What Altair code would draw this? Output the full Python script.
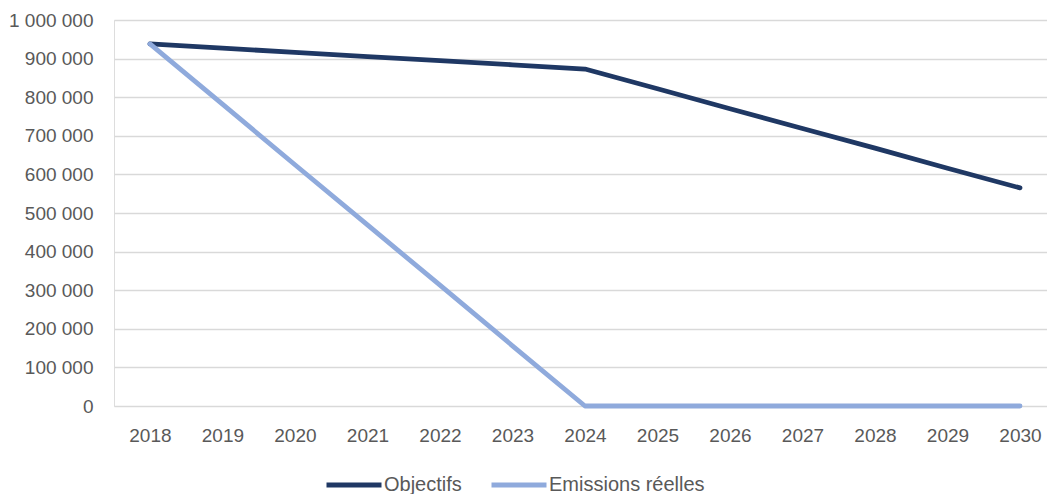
import altair as alt
import pandas as pd

years = [str(y) for y in range(2018, 2031)]
objectifs = [938000, 927000, 916000, 905000, 895000, 884000, 873000,
             822000, 770000, 719000, 668000, 616000, 565000]
emissions = [938000, 782000, 625000, 469000, 313000, 156000, 0,
             0, 0, 0, 0, 0, 0]
series = ["Objectifs", "Emissions réelles"]
colors = ["#1F3864", "#8FAADC"]
y_ticks = list(range(0, 1000001, 100000))

rows = []
for s, vals in zip(series, [objectifs, emissions]):
    for yr, v in zip(years, vals):
        rows.append({"Année": yr, "Valeur": v, "Série": s})
df = pd.DataFrame(rows)

FONT = "Liberation Sans, Arial, sans-serif"
TXT = "#595959"
FS = 19

chart = alt.Chart(df).mark_line(strokeWidth=4.8, strokeCap="round", strokeJoin="round").encode(
    x=alt.X("Année:O",
            scale=alt.Scale(type="point", domain=years, padding=0.434, align=0.571),
            axis=alt.Axis(title=None, labelAngle=0, ticks=False, domain=False, grid=False,
                          labelPadding=20, labelFontSize=FS, labelFont=FONT, labelColor=TXT)),
    y=alt.Y("Valeur:Q",
            scale=alt.Scale(domain=[0, 1000000], nice=False),
            axis=alt.Axis(title=None, values=y_ticks, ticks=False, domain=False,
                          grid=True, gridColor="#D9D9D9", gridWidth=1.3,
                          labelPadding=21, labelFontSize=FS, labelFont=FONT, labelColor=TXT,
                          labelExpr="replace(format(datum.value, ','), regexp(',', 'g'), ' ')")),
    color=alt.Color("Série:N",
                    scale=alt.Scale(domain=series, range=colors),
                    legend=alt.Legend(title=None, orient="none", direction="horizontal",
                                      legendX=210, legendY=435,
                                      symbolType="stroke", symbolSize=3025,
                                      symbolStrokeWidth=5, labelOffset=0,
                                      columnPadding=19, padding=0,
                                      labelFontSize=20, labelFont=FONT, labelColor=TXT)),
    detail="Série:N",
).properties(
    width=933, height=386,
    autosize=alt.AutoSizeParams(type="none"),
    padding={"left": 106, "top": 12, "right": 0, "bottom": 88},
).configure_view(stroke=None).configure(background="white")

chart.save("out.html", embed_options={"renderer": "svg", "actions": False})
